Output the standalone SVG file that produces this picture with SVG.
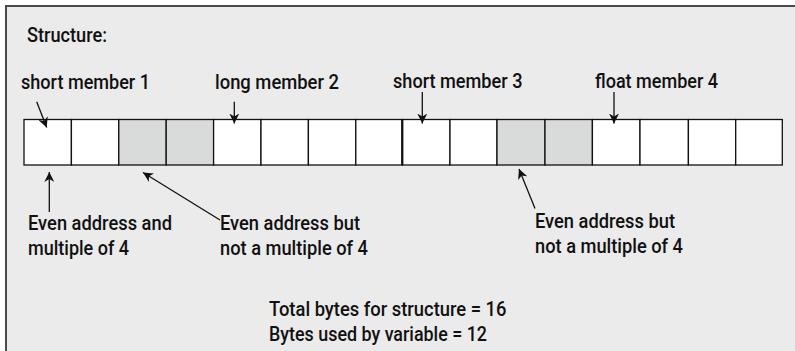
<svg xmlns="http://www.w3.org/2000/svg" width="795" height="351" viewBox="0 0 795 351">
<defs>
<marker id="ah" viewBox="0 0 10 10" refX="10" refY="5" markerWidth="10" markerHeight="10" markerUnits="userSpaceOnUse" orient="auto">
<path d="M0,0 L10,5 L0,10 L3,5 Z" fill="#111"/>
</marker>
<style>
text{font-family:Roboto,"Liberation Sans",Arial,sans-serif;font-weight:500;font-size:19.5px;fill:#111}
.m{font-size:20px}
.cell{fill:#fff;stroke:#111;stroke-width:1.3}
.g{fill:#d9dbda}
.conn line{stroke:#111;stroke-width:1.3;marker-end:url(#ah)}
</style>
</defs>
<rect x="0" y="0" width="795" height="351" fill="#fff"/>
<rect x="6" y="6" width="800" height="360" fill="#ebebeb" stroke="#4a4a4a" stroke-width="2"/>
<g id="title"><text x="27" y="42" style="font-size:19.5px" textLength="80" lengthAdjust="spacingAndGlyphs">Structure:</text></g>
<g id="cells">
<rect class="cell" x="24" y="119.5" width="47.4" height="45.5"/>
<rect class="cell" x="71.4" y="119.5" width="47.4" height="45.5"/>
<rect class="cell g" x="118.8" y="119.5" width="47.4" height="45.5"/>
<rect class="cell g" x="166.2" y="119.5" width="47.4" height="45.5"/>
<rect class="cell" x="213.6" y="119.5" width="47.4" height="45.5"/>
<rect class="cell" x="261" y="119.5" width="47.4" height="45.5"/>
<rect class="cell" x="308.4" y="119.5" width="47.4" height="45.5"/>
<rect class="cell" x="355.8" y="119.5" width="46.5" height="45.5"/>
<rect class="cell" x="402.3" y="119.5" width="47.7" height="45.5"/>
<rect class="cell" x="450" y="119.5" width="47" height="45.5"/>
<rect class="cell g" x="497" y="119.5" width="48" height="45.5"/>
<rect class="cell g" x="545" y="119.5" width="47.4" height="45.5"/>
<rect class="cell" x="592.4" y="119.5" width="47.6" height="45.5"/>
<rect class="cell" x="640" y="119.5" width="48.4" height="45.5"/>
<rect class="cell" x="688.4" y="119.5" width="47.3" height="45.5"/>
<rect class="cell" x="735.7" y="119.5" width="46.6" height="45.5"/>
<line x1="402.3" y1="119.5" x2="402.3" y2="165" stroke="#111" stroke-width="2.2"/>
</g>
<g id="label-m1"><text class="m" x="21" y="89" textLength="129" lengthAdjust="spacingAndGlyphs">short member 1</text></g>
<g id="label-m2"><text class="m" x="215" y="89" textLength="124" lengthAdjust="spacingAndGlyphs">long member 2</text></g>
<g id="label-m3"><text class="m" x="393" y="88" textLength="129.5" lengthAdjust="spacingAndGlyphs">short member 3</text></g>
<g id="label-m4"><text class="m" x="595" y="88" textLength="123" lengthAdjust="spacingAndGlyphs">float member 4</text></g>
<g id="note1"><text x="28" y="230" textLength="144" lengthAdjust="spacingAndGlyphs">Even address and</text><text x="28" y="255" textLength="101" lengthAdjust="spacingAndGlyphs">multiple of 4</text></g>
<g id="note2"><text x="220" y="230" textLength="140" lengthAdjust="spacingAndGlyphs">Even address but</text><text x="220" y="255" textLength="148" lengthAdjust="spacingAndGlyphs">not a multiple of 4</text></g>
<g id="note3"><text x="535" y="228" textLength="140" lengthAdjust="spacingAndGlyphs">Even address but</text><text x="535" y="253" textLength="148" lengthAdjust="spacingAndGlyphs">not a multiple of 4</text></g>
<g id="totals"><text x="269" y="315.5" textLength="237.5" lengthAdjust="spacingAndGlyphs">Total bytes for structure = 16</text><text x="269" y="341" textLength="218" lengthAdjust="spacingAndGlyphs">Bytes used by variable = 12</text></g>
<g class="conn" id="connectors">
<line x1="36.7" y1="101.7" x2="46.7" y2="127.5"/>
<line x1="234.3" y1="101.7" x2="234.3" y2="123.5"/>
<line x1="422.3" y1="92" x2="422.3" y2="123.5"/>
<line x1="614" y1="92" x2="614" y2="123.5"/>
<line x1="49.3" y1="212" x2="49.3" y2="172"/>
<line x1="220" y1="220" x2="143" y2="172.5"/>
<line x1="535" y1="208.5" x2="519" y2="169"/>
</g>
</svg>
